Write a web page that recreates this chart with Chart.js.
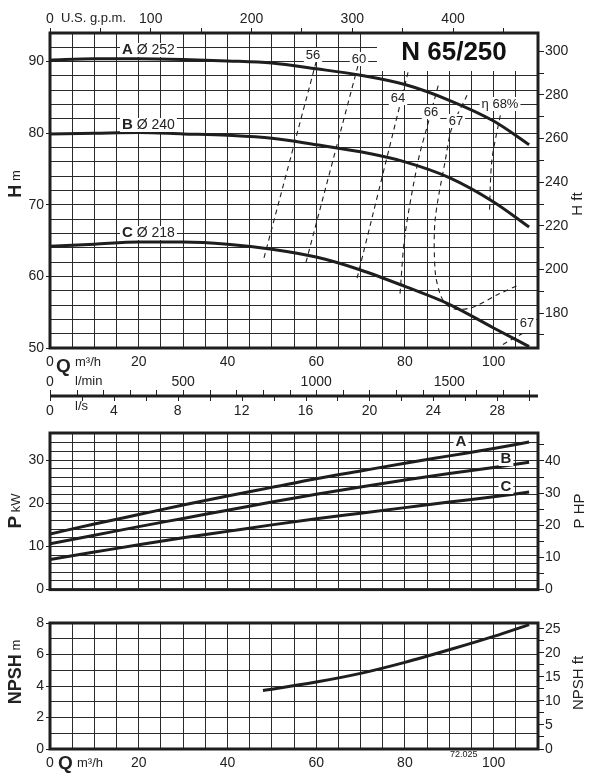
<!DOCTYPE html>
<html>
<head>
<meta charset="utf-8">
<script src="https://cdn.jsdelivr.net/npm/chart.js@4.4.1/dist/chart.umd.min.js"></script>
<style>
  body { margin: 0; background: #fff; }
  #wrap { position: relative; width: 602px; height: 782px; }
  canvas { position: absolute; left: 0; }
</style>
</head>
<body>
<div id="wrap">
  <canvas id="headChart" width="602" height="420" style="top:0"></canvas>
  <canvas id="powerChart" width="602" height="180" style="top:420px"></canvas>
  <canvas id="npshChart" width="602" height="182" style="top:600px"></canvas>
</div>
<script>
// pump curves, Q in m3/h
const flow = [0, 10, 20, 30, 40, 50, 60, 70, 80, 90, 100, 108];
const headA = [90.2, 90.4, 90.4, 90.3, 90.1, 89.8, 89.0, 88.1, 86.8, 84.6, 81.7, 78.4];
const headB = [79.9, 80.0, 80.1, 79.9, 79.7, 79.3, 78.4, 77.4, 76.0, 73.8, 70.4, 66.9];
const headC = [64.2, 64.5, 64.8, 64.8, 64.5, 63.8, 62.7, 60.9, 58.6, 56.1, 52.8, 50.2];

const powerA = [12.9, 15.2, 17.4, 19.6, 21.7, 23.7, 25.7, 27.5, 29.3, 31.0, 32.7, 34.2];
const powerB = [10.6, 12.6, 14.6, 16.5, 18.4, 20.3, 22.1, 23.8, 25.4, 26.9, 28.3, 29.5];
const powerC = [7.0, 8.7, 10.4, 12.0, 13.5, 15.0, 16.4, 17.7, 19.0, 20.3, 21.5, 22.6];

const npshFlow = [48, 50, 60, 70, 80, 90, 100, 108];
const npshM = [3.72, 3.8, 4.25, 4.8, 5.5, 6.3, 7.15, 7.9];

// iso-efficiency lines (Q m3/h, H m)
const eta56Q = [60.0, 48.2];
const eta56H = [90.0, 62.5];
const eta60Q = [69.4, 57.5];
const eta60H = [89.4, 61.5];
const eta64Q = [80.7, 69.2];
const eta64H = [88.5, 59.7];
const eta66Q = [87.5, 85.2, 83.0, 80.0, 78.9];
const eta66H = [86.65, 81.35, 76.2, 65.7, 57.6];
const eta67Q = [94.0, 90.6, 89.1, 86.8, 86.8, 87.9, 89.4, 91.7, 95.4, 100.7, 105.6];
const eta67H = [85.3, 80.8, 76.2, 67.8, 60.85, 57.6, 56.0, 55.4, 55.7, 57.4, 58.8];
const eta67bQ = [102.1, 106.4];
const eta67bH = [50.5, 52.0];
const eta68Q = [101.5, 99.6, 99.05];
const eta68H = [82.5, 76.2, 68.9];

// tick labels
const qTicks = [0, 20, 40, 60, 80, 100];
const gpmTicks = [0, 100, 200, 300, 400];
const lminTicks = [0, 500, 1000, 1500];
const lsTicks = [0, 4, 8, 12, 16, 20, 24, 28];
const headTicks = [50, 60, 70, 80, 90];
const headFtTicks = [180, 200, 220, 240, 260, 280, 300];
const powerTicks = [0, 10, 20, 30];
const hpTicks = [0, 10, 20, 30, 40];
const npshTicks = [0, 2, 4, 6, 8];
const npshFtTicks = [0, 5, 10, 15, 20, 25];

// unit conversions
const FT = 3.28084;     // ft per m
const HP = 1.34102;     // HP per kW
const GPM = 0.2271247;  // m3/h per US gpm
const LMIN = 16.6667;   // l/min per m3/h
const LS = 3.6;         // m3/h per l/s

const ink = '#1e1e1e';
const fam = '"Liberation Sans", Arial, Helvetica, sans-serif';
const f = (w, s) => w + ' ' + s + 'px ' + fam;

Chart.defaults.font.family = fam;
Chart.defaults.font.size = 14;
Chart.defaults.color = '#222';

const pts = (xs, ys) => xs.map((x, i) => ({ x: x, y: ys[i] }));
const only = list => v => list.includes(v) ? v : '';

function curve(xs, ys) {
    return { data: pts(xs, ys), borderColor: ink, borderWidth: 3, pointRadius: 0,
             cubicInterpolationMode: 'monotone' };
}
function dashed(xs, ys) {
    return { data: pts(xs, ys), borderColor: ink, borderWidth: 1.1, pointRadius: 0,
             borderDash: [5, 4], tension: 0.3 };
}

function grid(labels) {
    return {
        color: '#2a2a2a', lineWidth: 1, tickLength: 4,
        tickColor: ctx => labels.includes(ctx.tick.value) ? ink : 'rgba(0,0,0,0)'
    };
}
function sideGrid(len) {
    return { drawOnChartArea: false, tickLength: len, tickColor: ink, lineWidth: 1 };
}

// text helpers
function parts(ctx, list) {
    let w = 0;
    list.forEach(p => { ctx.font = p[1]; w += ctx.measureText(p[0]).width; });
    return w;
}
function drawParts(ctx, list, x, y) {
    list.forEach(p => { ctx.font = p[1]; ctx.fillText(p[0], x, y); x += ctx.measureText(p[0]).width; });
}
function boxText(ctx, list, x, y, center) {
    ctx.save();
    ctx.textBaseline = 'middle';
    ctx.textAlign = 'left';
    const w = parts(ctx, list);
    if (center) x -= w / 2;
    ctx.fillStyle = '#fff';
    ctx.fillRect(x - 2, y - 7, w + 4, 14);
    ctx.fillStyle = '#222';
    drawParts(ctx, list, x, y);
    ctx.restore();
}
function vText(ctx, list, x, cy) {
    ctx.save();
    ctx.translate(x, cy);
    ctx.rotate(-Math.PI / 2);
    ctx.textBaseline = 'middle';
    ctx.textAlign = 'left';
    ctx.fillStyle = '#222';
    const w = parts(ctx, list);
    drawParts(ctx, list, -w / 2, 0);
    ctx.restore();
}
function frame(chart) {
    const a = chart.chartArea, ctx = chart.ctx;
    ctx.save();
    ctx.lineWidth = 3;
    ctx.strokeStyle = ink;
    ctx.strokeRect(a.left, a.top, a.right - a.left, a.bottom - a.top);
    ctx.restore();
}

const commonOpts = {
    responsive: false,
    animation: false,
    events: [],
    plugins: { legend: { display: false }, tooltip: { enabled: false } }
};

// ---------- H-Q chart ----------
new Chart(document.getElementById('headChart'), {
    type: 'line',
    data: {
        datasets: [
            curve(flow, headA), curve(flow, headB), curve(flow, headC),
            dashed(eta56Q, eta56H), dashed(eta60Q, eta60H), dashed(eta64Q, eta64H),
            dashed(eta66Q, eta66H), dashed(eta67Q, eta67H), dashed(eta67bQ, eta67bH),
            dashed(eta68Q, eta68H)
        ]
    },
    options: Object.assign({}, commonOpts, {
        layout: { padding: { left: 0, right: 0, top: 0, bottom: 50 } },
        scales: {
            x: {
                type: 'linear', position: 'bottom', min: 0, max: 110,
                ticks: { stepSize: 5, autoSkip: false, maxRotation: 0, padding: 6, callback: only(qTicks) },
                grid: { color: '#2a2a2a', lineWidth: 1, drawTicks: false },
                border: { display: false },
                afterFit: s => { s.height = 22; }
            },
            xg: {
                type: 'linear', position: 'top', min: 0, max: 110 / GPM,
                ticks: { stepSize: 50, autoSkip: false, maxRotation: 0, padding: 0, includeBounds: false,
                         callback: only(gpmTicks) },
                grid: sideGrid(5),
                border: { display: false },
                afterFit: s => { s.height = 33; }
            },
            y: {
                type: 'linear', position: 'left', min: 50, max: 94,
                ticks: { stepSize: 2, autoSkip: false, padding: 2, callback: only(headTicks) },
                grid: grid(headTicks),
                border: { display: false },
                afterFit: s => { s.width = 50; }
            },
            yft: {
                type: 'linear', position: 'right', min: 50 * FT, max: 94 * FT,
                ticks: { stepSize: 10, autoSkip: false, padding: 1, includeBounds: false,
                         callback: only(headFtTicks) },
                grid: sideGrid(6),
                border: { display: false },
                afterFit: s => { s.width = 64; }
            }
        }
    }),
    plugins: [{
        id: 'headDeco',
        afterDatasetsDraw(chart) {
            const ctx = chart.ctx;
            const x = chart.scales.x;
            // title box
            ctx.save();
            ctx.fillStyle = '#fff';
            ctx.fillRect(377, 34, 160, 37);
            ctx.fillStyle = '#111';
            ctx.font = f('bold', 26);
            ctx.textAlign = 'center';
            ctx.textBaseline = 'middle';
            ctx.fillText('N 65/250', 454, 53);
            ctx.restore();

            boxText(ctx, [['A', f('bold', 15)], [' Ø 252', f('', 14)]], 122, 50);
            boxText(ctx, [['B', f('bold', 15)], [' Ø 240', f('', 14)]], 122, 125);
            boxText(ctx, [['C', f('bold', 15)], [' Ø 218', f('', 14)]], 122, 233);

            const e = f('', 13);
            boxText(ctx, [['56', e]], 313, 55, true);
            boxText(ctx, [['60', e]], 359, 59, true);
            boxText(ctx, [['64', e]], 398, 98, true);
            boxText(ctx, [['66', e]], 431, 112, true);
            boxText(ctx, [['67', e]], 456, 121, true);
            boxText(ctx, [['η 68%', e]], 500, 104, true);
            boxText(ctx, [['67', e]], 527, 323, true);

            frame(chart);

            // axis captions
            ctx.save();
            ctx.fillStyle = '#222';
            ctx.textBaseline = 'middle';
            ctx.font = f('', 13);
            ctx.fillText('U.S. g.p.m.', 61, 18);
            ctx.font = f('bold', 19);
            ctx.fillText('Q', 56, 367);
            ctx.font = f('', 13);
            ctx.fillText('m³/h', 75, 362);
            ctx.fillText('l/min', 75, 381);
            ctx.fillText('l/s', 75, 406);

            // l/min and l/s scale strip
            const yLine = 396;
            ctx.strokeStyle = ink;
            ctx.lineWidth = 3;
            ctx.beginPath();
            ctx.moveTo(x.left, yLine);
            ctx.lineTo(x.right, yLine);
            ctx.stroke();
            ctx.lineWidth = 1;
            ctx.beginPath();
            for (let v = 0; v <= 110 * LMIN; v += 100) {
                const px = Math.round(x.getPixelForValue(v / LMIN)) + 0.5;
                ctx.moveTo(px, yLine);
                ctx.lineTo(px, yLine - 6);
            }
            for (let v = 0; v <= 110 / LS; v += 2) {
                const px = Math.round(x.getPixelForValue(v * LS)) + 0.5;
                ctx.moveTo(px, yLine);
                ctx.lineTo(px, yLine + 5);
            }
            ctx.stroke();
            ctx.font = f('', 14);
            ctx.textAlign = 'center';
            lminTicks.forEach(v => ctx.fillText(String(v), x.getPixelForValue(v / LMIN), 382));
            lsTicks.forEach(v => ctx.fillText(String(v), x.getPixelForValue(v * LS), 411));
            ctx.restore();

            vText(ctx, [['H', f('bold', 18)], [' m', f('', 13)]], 16, 184);
            vText(ctx, [['H ft', f('', 15)]], 578, 204);
        }
    }]
});

// ---------- P-Q chart ----------
new Chart(document.getElementById('powerChart'), {
    type: 'line',
    data: { datasets: [curve(flow, powerA), curve(flow, powerB), curve(flow, powerC)] },
    options: Object.assign({}, commonOpts, {
        layout: { padding: { left: 0, right: 0, top: 13, bottom: 9 } },
        scales: {
            x: {
                type: 'linear', min: 0, max: 110,
                ticks: { stepSize: 5, display: false },
                grid: { color: '#2a2a2a', lineWidth: 1, drawTicks: false },
                border: { display: false },
                afterFit: s => { s.height = 0; }
            },
            y: {
                type: 'linear', position: 'left', min: 0, max: 36.3,
                ticks: { stepSize: 2, autoSkip: false, padding: 2, callback: only(powerTicks) },
                grid: grid(powerTicks),
                border: { display: false },
                afterFit: s => { s.width = 50; }
            },
            yhp: {
                type: 'linear', position: 'right', min: 0, max: 36.3 * HP,
                ticks: { stepSize: 5, autoSkip: false, padding: 1, includeBounds: false,
                         callback: only(hpTicks) },
                grid: sideGrid(6),
                border: { display: false },
                afterFit: s => { s.width = 64; }
            }
        }
    }),
    plugins: [{
        id: 'powerDeco',
        afterDatasetsDraw(chart) {
            const ctx = chart.ctx;
            // canvas starts at page y = 420
            boxText(ctx, [['A', f('bold', 15)]], 461, 22, true);
            boxText(ctx, [['B', f('bold', 15)]], 506, 39, true);
            boxText(ctx, [['C', f('bold', 15)]], 506, 67, true);
            frame(chart);
            vText(ctx, [['P', f('bold', 19)], [' kW', f('', 13)]], 16, 91);
            vText(ctx, [['P HP', f('', 15)]], 580, 91);
        }
    }]
});

// ---------- NPSH chart ----------
new Chart(document.getElementById('npshChart'), {
    type: 'line',
    data: { datasets: [curve(npshFlow, npshM)] },
    options: Object.assign({}, commonOpts, {
        layout: { padding: { left: 0, right: 0, top: 23, bottom: 11 } },
        scales: {
            x: {
                type: 'linear', position: 'bottom', min: 0, max: 110,
                ticks: { stepSize: 5, autoSkip: false, maxRotation: 0, padding: 6, callback: only(qTicks) },
                grid: { color: '#2a2a2a', lineWidth: 1, drawTicks: false },
                border: { display: false },
                afterFit: s => { s.height = 22; }
            },
            y: {
                type: 'linear', position: 'left', min: 0, max: 8,
                ticks: { stepSize: 1, autoSkip: false, padding: 2, callback: only(npshTicks) },
                grid: grid(npshTicks),
                border: { display: false },
                afterFit: s => { s.width = 50; }
            },
            yft: {
                type: 'linear', position: 'right', min: 0, max: 8 * FT,
                ticks: { stepSize: 2.5, autoSkip: false, padding: 1, includeBounds: false,
                         callback: only(npshFtTicks) },
                grid: sideGrid(6),
                border: { display: false },
                afterFit: s => { s.width = 64; }
            }
        }
    }),
    plugins: [{
        id: 'npshDeco',
        afterDatasetsDraw(chart) {
            const ctx = chart.ctx;
            frame(chart);
            ctx.save();
            ctx.fillStyle = '#222';
            ctx.textBaseline = 'middle';
            ctx.font = f('bold', 19);
            ctx.fillText('Q', 58, 164);
            ctx.font = f('', 13);
            ctx.fillText('m³/h', 77, 163);
            ctx.font = f('', 9);
            ctx.fillText('72.025', 450, 155);
            ctx.restore();
            // canvas starts at page y = 600
            vText(ctx, [['NPSH', f('bold', 18)], [' m', f('', 13)]], 16, 72);
            vText(ctx, [['NPSH ft', f('', 15)]], 579, 83);
        }
    }]
});
</script>
</body>
</html>
